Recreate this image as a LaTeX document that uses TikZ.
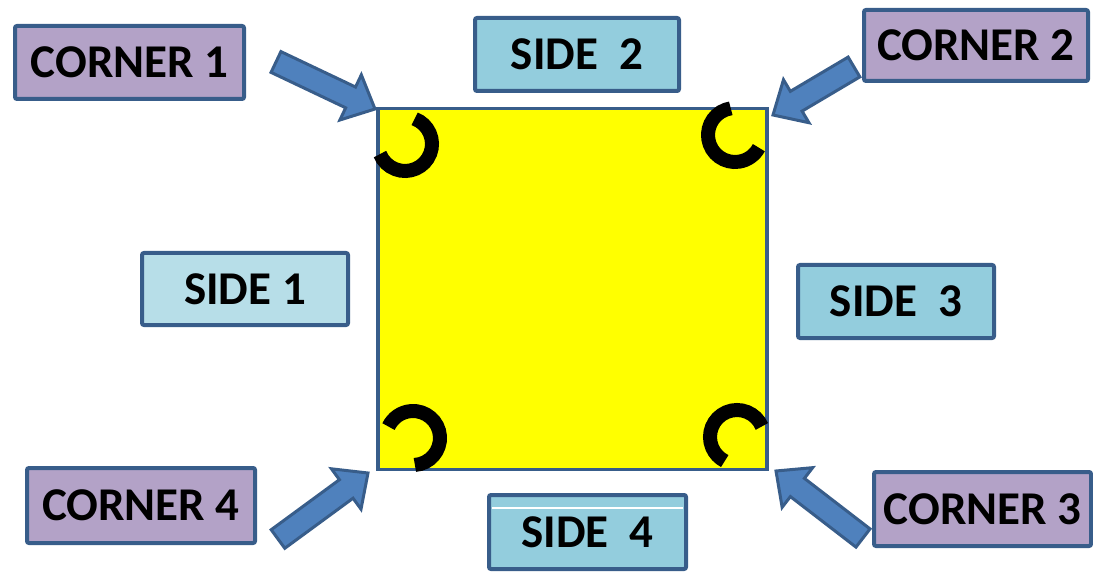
\documentclass[tikz,border=0pt]{standalone}
\usepackage{fontspec}
\setmainfont{Carlito}
\usepackage{xcolor}
\usetikzlibrary{calc}
\definecolor{edgeblue}{HTML}{385D8A}
\definecolor{cornerfill}{HTML}{B3A2C7}
\definecolor{sidefill}{HTML}{93CDDD}
\definecolor{sidelight}{HTML}{B7DEE8}
\definecolor{arrowfill}{HTML}{4F81BD}
\definecolor{sqyellow}{RGB}{255,255,0}
\tikzstyle{blockarrow} = [draw=edgeblue,fill=arrowfill,line width=3pt,line join=miter]
\tikzstyle{hook} = [draw=black,line width=14pt,line cap=butt]

% fat arrow from tail #1 to tip #2
\newcommand{\fatarrow}[2]{
    \coordinate (hb) at ($(#2)!27pt!(#1)$);
    \draw[blockarrow] ($(#1)!11.5pt!90:(#2)$) -- ($(hb)!11.5pt!90:(#2)$)
        -- ($(hb)!25pt!90:(#2)$) -- (#2) -- ($(hb)!25pt!-90:(#2)$)
        -- ($(hb)!11.5pt!-90:(#2)$) -- ($(#1)!11.5pt!-90:(#2)$) -- cycle;
}

\begin{document}
\begin{tikzpicture}
        [
            x=1pt,y=-1pt,
            label/.style={rectangle,draw=edgeblue,line width=4pt,rounded corners=2pt,
                inner sep=0pt,font=\bfseries\fontsize{47}{56}\selectfont},
            corner/.style={label,fill=cornerfill},
            side/.style={label,fill=sidefill},
        ]
    \useasboundingbox (0,0) rectangle (1093,572);

    \node[draw=edgeblue,fill=sqyellow,line width=3.5pt,minimum width=389pt,minimum height=361pt] (sq) at (572.5,289){};

    \node[corner,minimum width=229pt,minimum height=73pt] (corner1) at (129.5,62.5){CORNER 1};
    \node[corner,minimum width=224pt,minimum height=71pt] (corner2) at (976,45.5){CORNER 2};
    \node[corner,minimum width=217pt,minimum height=74pt] (corner3) at (982.5,509){CORNER 3};
    \node[corner,minimum width=228pt,minimum height=75pt] (corner4) at (141,505.5){CORNER 4};

    \node[side,fill=sidelight,minimum width=206pt,minimum height=72pt] (side1) at (245,289){SIDE 1};
    \node[side,minimum width=204pt,minimum height=73pt] (side2) at (577,54.5){SIDE~~2};
    \node[side,minimum width=196pt,minimum height=73pt] (side3) at (896,301.5){SIDE~~3};
    \node[side,minimum width=197pt,minimum height=74pt] (side4) at (587.5,532){SIDE~~4};
    \draw[white,line width=1.5pt] ($(side4.north west)+(5,15)$) -- ($(side4.north east)+(-5,15)$);

    % arrows
    \coordinate (tail1) at (276,62);
    \coordinate (tip1) at (375,109);
    \coordinate (tail2) at (854,67);
    \coordinate (tip2) at (773,115);
    \coordinate (tail3) at (863,538);
    \coordinate (tip3) at (776,471);
    \coordinate (tail4) at (278,539);
    \coordinate (tip4) at (368,473);
    \fatarrow{tail1}{tip1}
    \fatarrow{tail2}{tip2}
    \fatarrow{tail3}{tip3}
    \fatarrow{tail4}{tip4}

    % corner hooks
    \draw[hook] ([shift={(69:27pt)}]405,144) arc[start angle=69,end angle=-158,radius=27pt];
    \draw[hook] ([shift={(99:27pt)}]735,135) arc[start angle=99,end angle=332,radius=27pt];
    \draw[hook] ([shift={(23:27pt)}]737,437) arc[start angle=23,end angle=243,radius=27pt];
    \draw[hook] ([shift={(-86:27pt)}]413,438) arc[start angle=-86,end angle=155,radius=27pt];
\end{tikzpicture}
\end{document}
